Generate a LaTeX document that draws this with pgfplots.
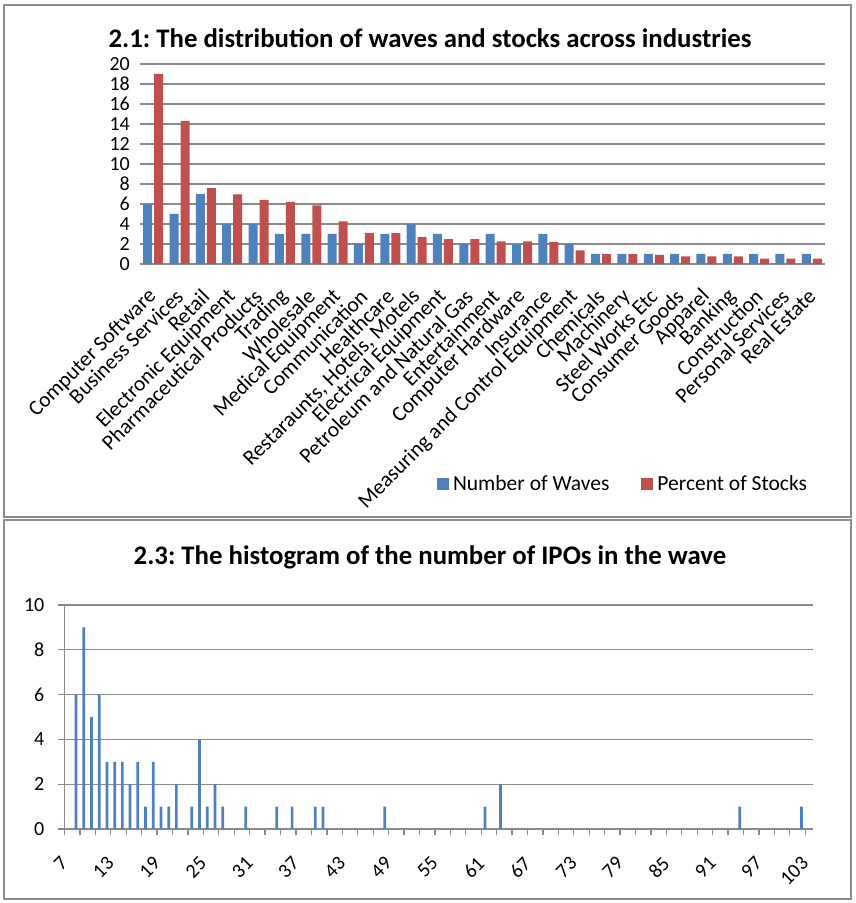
\documentclass[border=0pt]{standalone}
\usepackage{pgfplots}
\pgfplotsset{compat=1.18}
\usepackage{fontspec}
\setmainfont{Carlito}
\frenchspacing
\definecolor{wblue}{HTML}{4F81BD}
\definecolor{wred}{HTML}{C0504D}
\definecolor{gridgray}{HTML}{8A8A8A}
\definecolor{framegray}{HTML}{8C8C8C}
\newcommand{\lblfont}{\fontsize{21.5}{25}\selectfont}
\newcommand{\numfont}{\fontsize{20}{23}\selectfont}
\begin{document}
\begin{tikzpicture}[x=1pt,y=1pt]
\useasboundingbox (0,0) rectangle (855,903);
\draw[framegray, line width=2pt] (4,898) rectangle (851,386);
\draw[framegray, line width=2pt] (4,383) rectangle (851,4);
\node[font=\bfseries\fontsize{26.8}{31}\selectfont] at (430,865) {2.1: The distribution of waves and stocks across industries};
\node[font=\bfseries\fontsize{26.8}{31}\selectfont] at (430,346) {2.3: The histogram of the number of IPOs in the wave};

\begin{axis}[
  at={(140pt,639pt)}, anchor=south west, scale only axis,
  width=685pt, height=200pt,
  xmin=-0.5, xmax=25.5, ymin=0, ymax=20,
  ytick={0,2,...,20},
  xtick={0,...,25},
  xticklabels={Computer Software, Business Services, Retail, Electronic Equipment, Pharmaceutical Products, Trading, Wholesale, Medical Equipment, Communication, Healthcare, {Restaraunts, Hotels, Motels}, Electrical Equipment, Petroleum and Natural Gas, Entertainment, Computer Hardware, Insurance, Measuring and Control Equipment, Chemicals, Machinery, Steel Works Etc, Consumer Goods, Apparel, Banking, Construction, Personal Services, Real Estate},
  axis x line*=bottom, axis y line*=left,
  x axis line style={gridgray, line width=1.6pt, -},
  y axis line style={draw=none},
  major tick length=0pt,
  tick style={draw=none},
  ymajorgrids,
  major grid style={gridgray, line width=1.3pt},
  /pgf/number format/assume math mode=true,
  yticklabel style={font=\numfont, anchor=east, inner sep=0pt, xshift=-10pt},
  xticklabel style={font=\lblfont, yshift=-29pt, rotate=45, anchor=east, inner sep=0pt},
  legend style={at={(0.7066,-1.1)}, anchor=center, draw=none, fill=none, font=\lblfont, legend columns=2,
    /tikz/every even column/.append style={column sep=28pt},
    nodes={inner xsep=4pt}},
  legend image code/.code={\fill[#1] (0pt,-6pt) rectangle (12pt,6pt);},
]
\addplot[ybar, bar width=9pt, bar shift=-5.5pt, fill=wblue, draw=none] coordinates {
(0,6) (1,5) (2,7) (3,4) (4,4) (5,3) (6,3) (7,3) (8,2) (9,3) (10,4) (11,3) (12,2)
(13,3) (14,2) (15,3) (16,2) (17,1) (18,1) (19,1) (20,1) (21,1) (22,1) (23,1) (24,1) (25,1)};
\addlegendentry{Number of Waves}
\addplot[ybar, bar width=9pt, bar shift=5.5pt, fill=wred, draw=none] coordinates {
(0,19.0) (1,14.3) (2,7.58) (3,6.95) (4,6.41) (5,6.21) (6,5.87) (7,4.26) (8,3.12) (9,3.09) (10,2.68) (11,2.48) (12,2.48)
(13,2.27) (14,2.27) (15,2.2) (16,1.36) (17,0.98) (18,0.98) (19,0.92) (20,0.75) (21,0.75) (22,0.75) (23,0.54) (24,0.54) (25,0.54)};
\addlegendentry{Percent of Stocks}
\end{axis}

\begin{axis}[
  at={(64.5pt,74pt)}, anchor=south west, scale only axis,
  width=748.5pt, height=224pt,
  xmin=6.5, xmax=103.5, ymin=0, ymax=10,
  ytick={0,2,...,10},
  xtick={6.5,8.5,...,102.5},
  xticklabels={},
  extra x ticks={7,13,...,103},
  extra x tick labels={7,13,19,25,31,37,43,49,55,61,67,73,79,85,91,97,103},
  extra x tick style={major tick length=0pt},
  axis x line*=bottom, axis y line*=left,
  axis line style={gridgray, line width=1.6pt, -},
  tick align=outside,
  major tick length=6pt,
  tick style={gridgray, line width=1.3pt},
  ymajorgrids,
  major grid style={gridgray, line width=1.3pt},
  /pgf/number format/assume math mode=true,
  yticklabel style={font=\numfont, anchor=east, inner sep=0pt, xshift=-14pt},
  xticklabel style={font=\numfont, xshift=-4pt, yshift=-31pt, rotate=45, anchor=east, inner sep=0pt},
]
\addplot[ybar, bar width=2.7pt, bar shift=0pt, fill=wblue, draw=none] coordinates {
(8,6) (9,9) (10,5) (11,6) (12,3) (13,3) (14,3) (15,2) (16,3) (17,1) (18,3) (19,1) (20,1) (21,2)
(23,1) (24,4) (25,1) (26,2) (27,1) (30,1) (34,1) (36,1) (39,1) (40,1) (48,1) (61,1) (63,2) (94,1) (102,1)};
\end{axis}
\end{tikzpicture}
\end{document}
